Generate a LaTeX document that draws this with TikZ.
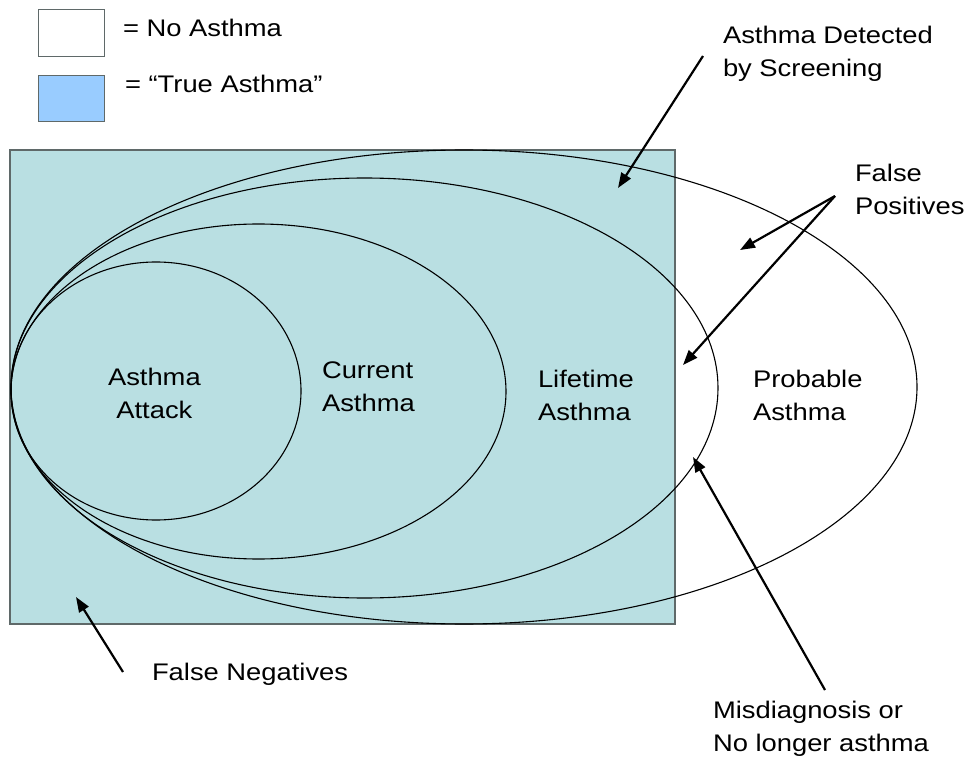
\documentclass[tikz,border=0pt]{standalone}
\usepackage{fontspec}
\setmainfont[FakeStretch=1.14]{Liberation Sans}
\usetikzlibrary{arrows.meta}

\definecolor{truefill}{RGB}{185,223,226}
\definecolor{legendblue}{RGB}{153,204,255}
\definecolor{edgegray}{RGB}{95,105,105}

% two-line labels are placed by the baseline of their last line
\tikzset{
  label/.style={inner sep=0pt, outer sep=0pt, anchor=base west, align=left,
    font=\fontsize{24}{33}\selectfont},
  region/.style={draw=black, line width=1.1pt},
  pointer/.style={draw=black, line width=2.2pt,
    -{Triangle[length=15pt, width=11pt]}},
  keybox/.style={draw=edgegray, line width=1pt},
}

\begin{document}
\begin{tikzpicture}[x=1pt, y=-1pt]
  \useasboundingbox (0,0) rectangle (972,759);

  % legend
  \draw[keybox, fill=white] (38,10) rectangle (104,57);
  \draw[keybox, fill=legendblue] (38,76) rectangle (104,122);
  \node[label] (keyno) at (123,37) {= No Asthma};
  \node[label] (keytrue) at (125,93) {= “True Asthma”};

  % population with true asthma
  \draw[draw=edgegray, line width=1.2pt, fill=truefill] (10,150) rectangle (675,624);

  % nested case definitions, all touching at the left
  \draw[region] (156,391) ellipse [x radius=145, y radius=129];
  \draw[region] (258.5,391.5) ellipse [x radius=247.5, y radius=167.5];
  \draw[region] (364.5,388) ellipse [x radius=353.5, y radius=210];
  \draw[region] (464,387) ellipse [x radius=453, y radius=237];

  % region labels
  \node[label, align=center] (attack) at (108,418) {Asthma\\Attack};
  \node[label] (current) at (322,411) {Current\\Asthma};
  \node[label] (lifetime) at (538,420) {Lifetime\\Asthma};
  \node[label] (probable) at (753,420) {Probable\\Asthma};

  % annotations
  \node[label] (detected) at (723,77) {Asthma Detected\\by Screening};
  \node[label] (falsepos) at (855,215) {False\\Positives};
  \node[label] (falseneg) at (152,680) {False Negatives};
  \node[label] (misdiag) at (713,751) {Misdiagnosis or\\No longer asthma};

  % arrow ends
  \coordinate (detTail) at (703,56);
  \coordinate (detHead) at (618,188);
  \coordinate (fpTail) at (835,196);
  \coordinate (fpHeadA) at (740,250);
  \coordinate (fpHeadB) at (683,365);
  \coordinate (misTail) at (825,690);
  \coordinate (misHead) at (693,457);
  \coordinate (fnTail) at (123,672);
  \coordinate (fnHead) at (76,597);

  \draw[pointer] (detTail) -- (detHead);
  \draw[pointer] (fpTail) -- (fpHeadA);
  \draw[pointer] (fpTail) -- (fpHeadB);
  \draw[pointer] (misTail) -- (misHead);
  \draw[pointer] (fnTail) -- (fnHead);
\end{tikzpicture}
\end{document}
